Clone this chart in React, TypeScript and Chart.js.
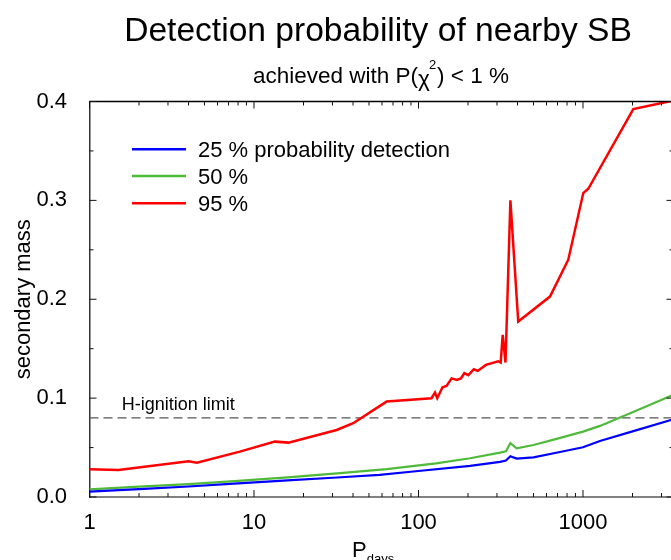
import React, { useEffect, useRef } from 'react';
import { Chart, registerables } from 'chart.js';

Chart.register(...registerables);

// ---------- data ----------
const X_MIN = 1;
const X_MAX = 3550;
const Y_MIN = 0;
const Y_MAX = 0.4;
const xTickValues = [1, 10, 100, 1000];
const yTickValues = [0, 0.1, 0.2, 0.3, 0.4];

const bluePeriods = [1, 2, 4, 8, 16, 32, 58, 93, 206, 313, 340, 362, 395, 500, 700, 1000, 1268, 2000, 3550];
const blueMass = [0.0054, 0.008, 0.0106, 0.0137, 0.0168, 0.0197, 0.0223, 0.0258, 0.0314, 0.0355, 0.0368, 0.0412, 0.0388, 0.04, 0.045, 0.0503, 0.0567, 0.0664, 0.0787];

const greenPeriods = [1, 2, 4, 8, 16, 32, 64, 128, 206, 313, 340, 362, 395, 500, 700, 1000, 1268, 2000, 3550];
const greenMass = [0.0078, 0.0104, 0.013, 0.0163, 0.0198, 0.0238, 0.0281, 0.034, 0.0392, 0.0449, 0.0462, 0.0544, 0.0493, 0.0526, 0.0591, 0.0661, 0.0719, 0.0858, 0.1035];

const redPeriods = [1, 1.5, 4.0, 4.5, 8.2, 13.4, 16.2, 31.8, 40.1, 64, 120, 126, 130, 140, 148, 159, 171, 181, 190, 201, 217, 229, 257, 305, 316, 325, 338, 362, 404, 630, 814, 1004, 1077, 2023, 3550];
const redMass = [0.028, 0.0273, 0.0361, 0.0347, 0.0459, 0.056, 0.055, 0.0678, 0.0746, 0.0965, 0.0999, 0.1056, 0.0999, 0.111, 0.1123, 0.12, 0.1184, 0.1198, 0.1252, 0.1232, 0.1292, 0.1275, 0.1336, 0.1373, 0.136, 0.164, 0.136, 0.3, 0.1774, 0.2027, 0.24, 0.3074, 0.3117, 0.3924, 0.401];

const hIgnitionMass = 0.08;

const seriesLabels = ['25 % probability detection', '50 %', '95 %'];
const seriesColors = ['#0000ff', '#4fba3a', '#ff0000'];

const TITLE = 'Detection probability of nearby SB';
const SUB_A = 'achieved with P(';
const SUB_CHI = 'χ';
const SUB_SUP = '2';
const SUB_B = ') < 1 %';
const Y_TITLE = 'secondary mass';
const X_TITLE = 'P';
const X_TITLE_SUB = 'days';
const H_LABEL = 'H-ignition limit';

const FONT = '"Liberation Sans", Arial, Helvetica, sans-serif';

const pts = (xs: number[], ys: number[]) => xs.map((x, i) => ({ x, y: ys[i] }));

const decorPlugin = {
  id: 'decor',
  afterDraw(chart: any) {
    const { ctx, chartArea: ca, scales } = chart;
    const xs = scales.x;
    const ys = scales.y;
    ctx.save();

    // top and right frame
    ctx.strokeStyle = '#000';
    ctx.lineWidth = 1.5;
    ctx.beginPath();
    ctx.moveTo(ca.left, ca.top);
    ctx.lineTo(ca.right, ca.top);
    ctx.lineTo(ca.right, ca.bottom);
    ctx.stroke();

    // inward ticks
    ctx.strokeStyle = '#111';
    ctx.lineWidth = 1;
    ctx.beginPath();
    for (let dec = 1; dec <= X_MAX; dec *= 10) {
      for (let m = 1; m <= 9; m++) {
        const v = m * dec;
        if (v > X_MAX) break;
        const px = xs.getPixelForValue(v);
        const len = m === 1 ? 7 : 4;
        ctx.moveTo(px, ca.bottom);
        ctx.lineTo(px, ca.bottom - len);
        ctx.moveTo(px, ca.top);
        ctx.lineTo(px, ca.top + len);
      }
    }
    for (let i = 0; i <= 8; i++) {
      const v = Y_MIN + i * 0.05;
      const py = ys.getPixelForValue(v);
      const len = i % 2 === 0 ? 7 : 4;
      ctx.moveTo(ca.left, py);
      ctx.lineTo(ca.left + len, py);
      ctx.moveTo(ca.right, py);
      ctx.lineTo(ca.right - len, py);
    }
    ctx.stroke();

    ctx.fillStyle = '#000';
    ctx.textBaseline = 'alphabetic';

    // title
    ctx.textAlign = 'center';
    ctx.font = `33.6px ${FONT}`;
    ctx.fillText(TITLE, 378, 41);

    // subtitle with superscript
    ctx.textAlign = 'left';
    ctx.font = `22.5px ${FONT}`;
    const wA = ctx.measureText(SUB_A).width;
    const wChi = ctx.measureText(SUB_CHI).width;
    const wB = ctx.measureText(SUB_B).width;
    ctx.font = `13px ${FONT}`;
    const wSup = ctx.measureText(SUB_SUP).width;
    const total = wA + wChi + wSup + wB;
    let sx = 381 - total / 2;
    const sy = 83;
    ctx.font = `22.5px ${FONT}`;
    ctx.fillText(SUB_A, sx, sy);
    sx += wA;
    ctx.fillText(SUB_CHI, sx, sy + 3);
    sx += wChi;
    ctx.font = `13px ${FONT}`;
    ctx.fillText(SUB_SUP, sx - 1, sy - 14);
    sx += wSup;
    ctx.font = `22.5px ${FONT}`;
    ctx.fillText(SUB_B, sx, sy);

    // y title
    ctx.save();
    ctx.translate(30, (ca.top + ca.bottom) / 2);
    ctx.rotate(-Math.PI / 2);
    ctx.textAlign = 'center';
    ctx.font = `22px ${FONT}`;
    ctx.fillText(Y_TITLE, 0, 0);
    ctx.restore();

    // x title with subscript
    ctx.textAlign = 'left';
    ctx.font = `22px ${FONT}`;
    ctx.fillText(X_TITLE, 352, 557);
    const wP = ctx.measureText(X_TITLE).width;
    ctx.font = `13px ${FONT}`;
    ctx.fillText(X_TITLE_SUB, 352 + wP, 563);

    // H-ignition label
    ctx.font = `18px ${FONT}`;
    ctx.fillText(H_LABEL, 121.7, 410);

    // legend
    const rows = [149.3, 176, 203.3];
    for (let i = 0; i < 3; i++) {
      ctx.strokeStyle = seriesColors[i];
      ctx.lineWidth = 2.5;
      ctx.beginPath();
      ctx.moveTo(132, rows[i]);
      ctx.lineTo(186, rows[i]);
      ctx.stroke();
      ctx.fillStyle = '#000';
      ctx.font = `22px ${FONT}`;
      ctx.fillText(seriesLabels[i], 198, rows[i] + 8);
    }

    ctx.restore();
  },
};

export default function App() {
  const ref = useRef<HTMLCanvasElement>(null);

  useEffect(() => {
    const canvas = ref.current;
    if (!canvas) return;
    const chart = new Chart(canvas, {
      type: 'line',
      data: {
        datasets: [
          {
            label: seriesLabels[0],
            data: pts(bluePeriods, blueMass),
            borderColor: seriesColors[0],
            borderWidth: 2.2,
            pointRadius: 0,
            tension: 0,
          },
          {
            label: seriesLabels[1],
            data: pts(greenPeriods, greenMass),
            borderColor: seriesColors[1],
            borderWidth: 2.2,
            pointRadius: 0,
            tension: 0,
          },
          {
            label: seriesLabels[2],
            data: pts(redPeriods, redMass),
            borderColor: seriesColors[2],
            borderWidth: 2.5,
            pointRadius: 0,
            tension: 0,
          },
          {
            label: H_LABEL,
            data: [
              { x: X_MIN, y: hIgnitionMass },
              { x: X_MAX, y: hIgnitionMass },
            ],
            borderColor: '#555',
            borderWidth: 1.3,
            borderDash: [9, 5],
            pointRadius: 0,
          },
        ],
      },
      options: {
        animation: false,
        responsive: false,
        devicePixelRatio: 1,
        layout: { padding: { top: 101.5, right: 6.5, left: 0, bottom: 0 } },
        plugins: {
          legend: { display: false },
          title: { display: false },
          tooltip: { enabled: false },
        },
        scales: {
          x: {
            type: 'logarithmic',
            min: X_MIN,
            max: X_MAX,
            afterFit: (s: any) => {
              s.height = 63;
            },
            afterBuildTicks: (s: any) => {
              s.ticks = xTickValues.map((v) => ({ value: v }));
            },
            grid: { display: false },
            border: { display: true, color: '#808080', width: 2 },
            ticks: {
              autoSkip: false,
              maxRotation: 0,
              padding: 5,
              color: '#000',
              font: { family: FONT, size: 22 },
              callback: (v: any) => String(v),
            },
          },
          y: {
            type: 'linear',
            min: Y_MIN,
            max: Y_MAX,
            afterFit: (s: any) => {
              s.width = 89.5;
            },
            afterBuildTicks: (s: any) => {
              s.ticks = yTickValues.map((v) => ({ value: v }));
            },
            grid: { display: false },
            border: { display: true, color: '#333', width: 1.5 },
            ticks: {
              padding: 14.5,
              color: '#000',
              font: { family: FONT, size: 22 },
              callback: (v: any) => Number(v).toFixed(1),
            },
          },
        },
      },
      plugins: [decorPlugin],
    } as any);
    return () => chart.destroy();
  }, []);

  return (
    <div
      style={{
        position: 'fixed',
        left: 0,
        top: 0,
        width: 671,
        height: 560,
        overflow: 'hidden',
        background: '#fff',
      }}
    >
      <canvas ref={ref} width={680} height={560} style={{ display: 'block', width: 680, height: 560 }} />
    </div>
  );
}
